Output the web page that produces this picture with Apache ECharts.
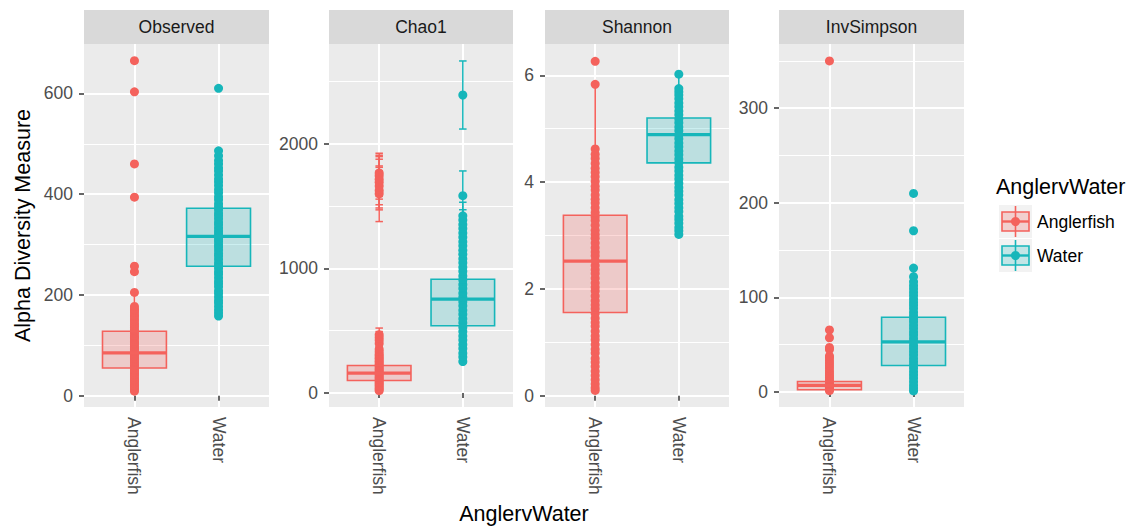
<!DOCTYPE html>
<html><head><meta charset="utf-8">
<script src="https://cdn.jsdelivr.net/npm/echarts@6.0.0/dist/echarts.min.js"></script>
<style>html,body{margin:0;padding:0;background:#fff}#chart{width:1143px;height:529px}</style>
</head><body><div id="chart"></div>
<script>
// ---------- data ----------
const panels = ['Observed', 'Chao1', 'Shannon', 'InvSimpson'];
const groups = ['Anglerfish', 'Water'];

const observedAngler = [9, 12, 15, 19, 21, 25, 28, 31, 33, 37, 41, 43, 47, 50, 52, 57, 60, 62, 66, 69, 73, 75, 79, 82, 84, 89, 92, 94, 98, 102, 105, 108, 113, 116, 119, 124, 128, 131, 136, 140, 143, 148, 152, 157, 160, 165, 169, 172, 177, 205, 246, 257, 394, 460, 603, 665];
const observedWater = [158, 164, 170, 177, 184, 189, 196, 203, 208, 216, 222, 227, 234, 241, 246, 253, 259, 264, 271, 277, 282, 289, 295, 300, 306, 311, 317, 322, 327, 333, 339, 344, 351, 357, 362, 369, 375, 381, 389, 395, 403, 409, 417, 424, 430, 438, 446, 452, 460, 467, 476, 486, 610];

const chao1Angler = [19, 31, 43, 56, 68, 81, 93, 107, 118, 131, 145, 156, 168, 182, 193, 206, 220, 231, 246, 257, 272, 283, 298, 311, 331, 352, 398, 424, 446, 468, 1598, 1625, 1660, 1690, 1715, 1742, 1765];
const chao1AnglerSE = [3, 4, 6, 8, 8, 11, 12, 12, 15, 17, 17, 20, 19, 23, 22, 26, 25, 29, 28, 32, 31, 35, 33, 38, 37, 42, 44, 49, 47, 53, 223, 156, 150, 206, 160, 165, 158];
const chao1Water = [253, 288, 320, 357, 389, 425, 458, 494, 527, 563, 595, 632, 664, 700, 733, 769, 801, 838, 870, 907, 939, 976, 1008, 1044, 1077, 1113, 1145, 1182, 1214, 1250, 1283, 1319, 1351, 1388, 1421, 1583, 2390];
const chao1WaterSE = [14, 18, 18, 22, 22, 26, 26, 30, 30, 34, 33, 38, 37, 42, 41, 46, 44, 50, 49, 54, 52, 58, 56, 62, 60, 66, 64, 70, 68, 74, 72, 78, 76, 82, 109, 198, 273];

const shannonAngler = [0.10, 0.15, 0.22, 0.30, 0.38, 0.46, 0.55, 0.63, 0.70, 0.80, 0.87, 0.96, 1.05, 1.12, 1.21, 1.30, 1.37, 1.45, 1.54, 1.63, 1.70, 1.78, 1.87, 1.96, 2.03, 2.11, 2.20, 2.29, 2.36, 2.44, 2.53, 2.62, 2.69, 2.77, 2.86, 2.95, 3.02, 3.10, 3.19, 3.28, 3.35, 3.43, 3.52, 3.61, 3.68, 3.76, 3.85, 3.92, 4.01, 4.10, 4.18, 4.26, 4.35, 4.44, 4.52, 4.62, 5.83, 6.26];
const shannonWater = [3.02, 3.09, 3.15, 3.23, 3.30, 3.36, 3.45, 3.52, 3.60, 3.67, 3.76, 3.83, 3.90, 3.98, 4.06, 4.13, 4.21, 4.28, 4.36, 4.43, 4.51, 4.58, 4.66, 4.73, 4.81, 4.88, 4.96, 5.03, 5.11, 5.18, 5.26, 5.33, 5.41, 5.48, 5.56, 5.63, 5.69, 5.75, 6.02];

const invSimpsonAngler = [1.5, 2.6, 3.8, 5.1, 6.4, 8.0, 9.7, 11.5, 13.4, 15.6, 17.8, 20.2, 22.6, 25.3, 28.1, 30.6, 33.4, 36.2, 38.1, 45.0, 47.2, 57.4, 65.6, 350];
const invSimpsonWater = [1.2, 4.1, 7.3, 10.8, 14.6, 18.1, 21.4, 25.2, 28.5, 32.1, 35.4, 39.2, 42.6, 46.0, 49.3, 53.1, 56.6, 60.2, 63.4, 67.1, 70.7, 74.2, 77.6, 81.0, 84.3, 88.2, 91.7, 95.0, 98.4, 102.1, 105.6, 109.3, 112.7, 116.5, 122, 131, 170.5, 210];

// box stats per group: [lower whisker, Q1, median, Q3, upper whisker]
const observedBox = [[9, 55, 85, 128, 205], [158, 257, 316, 372, 486]];
const chao1Box = [[19, 101, 160, 221, 398], [253, 539, 753, 913, 1421]];
const shannonBox = [[0.10, 1.56, 2.52, 3.38, 5.83], [3.02, 4.36, 4.89, 5.20, 6.02]];
const invSimpsonBox = [[1.5, 2.5, 7, 11.2, 22.6], [1.2, 28, 53, 79, 131]];

// axis ranges and ticks
const observedRange = [-22.5, 698];
const chao1Range = [-112, 2799];
const shannonRange = [-0.21, 6.585];
const invSimpsonRange = [-15.8, 367.9];
const observedTicks = [0, 200, 400, 600];
const observedMinor = [100, 300, 500];
const chao1Ticks = [0, 1000, 2000];
const chao1Minor = [500, 1500, 2500];
const shannonTicks = [0, 2, 4, 6];
const shannonMinor = [1, 3, 5];
const invSimpsonTicks = [0, 100, 200, 300];
const invSimpsonMinor = [50, 150, 250, 350];

// ---------- styling / layout ----------
const colors = ['#F4625C', '#16B6BA'];
const fills = ['rgba(244,98,92,0.24)', 'rgba(22,182,186,0.22)'];
const FONT = '"Liberation Sans", Arial, Helvetica, sans-serif';
const panelLeft = [84, 329, 545, 779];
const panelWidth = [185, 184, 184, 185];
const panelTop = 44, panelHeight = 363, stripTop = 10;

const panelDefs = [
  {pts: [observedAngler, observedWater], box: observedBox, range: observedRange, ticks: observedTicks, minor: observedMinor},
  {pts: [chao1Angler, chao1Water], se: [chao1AnglerSE, chao1WaterSE], box: chao1Box, range: chao1Range, ticks: chao1Ticks, minor: chao1Minor},
  {pts: [shannonAngler, shannonWater], box: shannonBox, range: shannonRange, ticks: shannonTicks, minor: shannonMinor},
  {pts: [invSimpsonAngler, invSimpsonWater], box: invSimpsonBox, range: invSimpsonRange, ticks: invSimpsonTicks, minor: invSimpsonMinor}
];

function renderBox(params, api) {
  const x = api.value(0);
  const lo = api.coord([x, api.value(1)]);
  const q1 = api.coord([x, api.value(2)]);
  const med = api.coord([x, api.value(3)]);
  const q3 = api.coord([x, api.value(4)]);
  const hi = api.coord([x, api.value(5)]);
  const half = api.size([0.76, 0])[0] / 2;
  const gi = Math.round(x) - 1;
  const c = colors[gi];
  return {type: 'group', children: [
    {type: 'line', shape: {x1: lo[0], y1: lo[1], x2: q1[0], y2: q1[1]}, style: {stroke: c, lineWidth: 1.6}},
    {type: 'line', shape: {x1: q3[0], y1: q3[1], x2: hi[0], y2: hi[1]}, style: {stroke: c, lineWidth: 1.6}},
    {type: 'rect', shape: {x: q1[0] - half, y: q3[1], width: 2 * half, height: q1[1] - q3[1]}, style: {fill: fills[gi], stroke: c, lineWidth: 1.6}},
    {type: 'line', shape: {x1: med[0] - half, y1: med[1], x2: med[0] + half, y2: med[1]}, style: {stroke: c, lineWidth: 3.2}}
  ]};
}

function renderErr(params, api) {
  const x = api.value(0), v = api.value(1), se = api.value(2);
  const top = api.coord([x, v + se]);
  const bot = api.coord([x, v - se]);
  const hw = api.size([0.09, 0])[0] / 2;
  const c = colors[Math.round(x) - 1];
  const st = {stroke: c, lineWidth: 1.5};
  return {type: 'group', children: [
    {type: 'line', shape: {x1: top[0], y1: top[1], x2: bot[0], y2: bot[1]}, style: st},
    {type: 'line', shape: {x1: top[0] - hw, y1: top[1], x2: top[0] + hw, y2: top[1]}, style: st},
    {type: 'line', shape: {x1: bot[0] - hw, y1: bot[1], x2: bot[0] + hw, y2: bot[1]}, style: st}
  ]};
}

const grid = [], xAxis = [], yAxis = [], series = [], graphic = [];
panelDefs.forEach((p, i) => {
  grid.push({left: panelLeft[i], top: panelTop, width: panelWidth[i], height: panelHeight,
    show: true, backgroundColor: '#EBEBEB', borderWidth: 0, containLabel: false});
  xAxis.push({type: 'value', gridIndex: i, min: 0.4, max: 2.6,
    axisLine: {show: false},
    axisTick: {show: true, length: 5, customValues: [1, 2], lineStyle: {color: '#333333', width: 1.5}},
    axisLabel: {show: true, customValues: [1, 2], rotate: -90, margin: 10, color: '#4D4D4D',
      fontSize: 17.5, fontFamily: FONT, formatter: v => groups[Math.round(v) - 1]},
    splitLine: {show: true, lineStyle: {color: '#FFFFFF', width: 2}}
  });
  yAxis.push({type: 'value', gridIndex: i, min: p.range[0], max: p.range[1],
    axisLine: {show: false},
    axisTick: {show: true, length: 5, customValues: p.ticks, lineStyle: {color: '#333333', width: 1.5}},
    axisLabel: {show: true, customValues: p.ticks, margin: 11, color: '#4D4D4D', fontSize: 17.5,
      fontFamily: FONT, formatter: v => String(v)},
    splitLine: {show: true, lineStyle: {color: '#FFFFFF', width: 2}}
  });
  // stripe
  graphic.push({type: 'rect', left: panelLeft[i], top: stripTop,
    shape: {width: panelWidth[i], height: panelTop - stripTop}, style: {fill: '#D9D9D9'}, silent: true});
  graphic.push({type: 'text', x: panelLeft[i] + panelWidth[i] / 2, y: (stripTop + panelTop) / 2,
    style: {text: panels[i], fill: '#1A1A1A', font: '17.5px ' + FONT, textAlign: 'center', textVerticalAlign: 'middle'}, silent: true});

  p.pts.forEach((arr, g) => {
    series.push({type: 'scatter', name: groups[g], xAxisIndex: i, yAxisIndex: i,
      data: arr.map(v => [g + 1, v]), symbolSize: 9, silent: true, z: 2,
      itemStyle: {color: colors[g], opacity: 1}});
  });
  if (p.se) {
    const errData = [];
    p.pts.forEach((arr, g) => arr.forEach((v, k) => errData.push([g + 1, v, p.se[g][k]])));
    series.push({type: 'custom', xAxisIndex: i, yAxisIndex: i, data: errData,
      renderItem: renderErr, silent: true, z: 3, encode: {x: 0, y: 1}});
  }
  series.push({type: 'custom', xAxisIndex: i, yAxisIndex: i,
    data: p.box.map((b, g) => [g + 1].concat(b)),
    renderItem: renderBox, silent: true, z: 4, encode: {x: 0, y: [1, 2, 3, 4, 5]}});
});
// minor grid lines (secondary invisible y axes)
panelDefs.forEach((p, i) => {
  yAxis.push({type: 'value', gridIndex: i, min: p.range[0], max: p.range[1], position: 'left',
    axisLine: {show: false}, axisLabel: {show: false},
    axisTick: {show: false, customValues: p.minor},
    splitLine: {show: true, lineStyle: {color: '#FFFFFF', width: 1}}
  });
});

// axis titles
graphic.push({type: 'text', x: 23, y: panelTop + panelHeight / 2, rotation: Math.PI / 2,
  style: {text: 'Alpha Diversity Measure', fill: '#000000', font: '21.5px ' + FONT, textAlign: 'center', textVerticalAlign: 'middle'}, silent: true});
graphic.push({type: 'text', x: 524, y: 514,
  style: {text: 'AnglervWater', fill: '#000000', font: '21.5px ' + FONT, textAlign: 'center', textVerticalAlign: 'middle'}, silent: true});

// legend
graphic.push({type: 'text', x: 996, y: 187,
  style: {text: 'AnglervWater', fill: '#000000', font: '21.5px ' + FONT, textAlign: 'left', textVerticalAlign: 'middle'}, silent: true});
groups.forEach((g, k) => {
  const y0 = 205 + k * 34, x0 = 999, cx = x0 + 16.5, cy = y0 + 16.5;
  graphic.push({type: 'group', silent: true, children: [
    {type: 'rect', shape: {x: x0, y: y0, width: 33, height: 33}, style: {fill: '#F2F2F2'}},
    {type: 'line', shape: {x1: cx, y1: y0 + 1, x2: cx, y2: y0 + 32}, style: {stroke: colors[k], lineWidth: 1.6}},
    {type: 'rect', shape: {x: x0 + 3, y: y0 + 7, width: 27, height: 19}, style: {fill: fills[k], stroke: colors[k], lineWidth: 1.6}},
    {type: 'line', shape: {x1: x0 + 3, y1: cy, x2: x0 + 30, y2: cy}, style: {stroke: colors[k], lineWidth: 2.4}},
    {type: 'circle', shape: {cx: cx, cy: cy, r: 4.5}, style: {fill: colors[k]}}
  ]});
  graphic.push({type: 'text', x: 1037, y: cy, silent: true,
    style: {text: g, fill: '#000000', font: '17.5px ' + FONT, textAlign: 'left', textVerticalAlign: 'middle'}});
});

const chart = echarts.init(document.getElementById('chart'), null, {renderer: 'svg'});
chart.setOption({
  animation: false,
  backgroundColor: '#FFFFFF',
  textStyle: {fontFamily: FONT},
  grid, xAxis, yAxis, series, graphic
});
</script></body></html>
